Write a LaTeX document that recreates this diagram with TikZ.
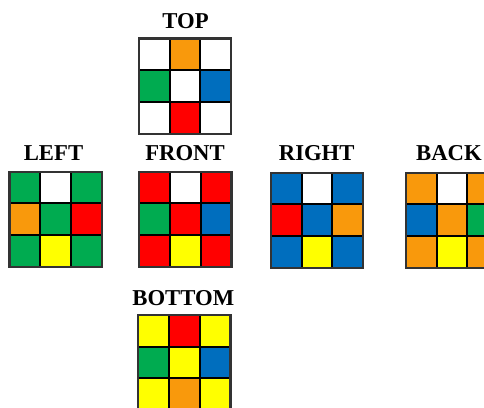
\documentclass[tikz,border=0pt]{standalone}
\usepackage{fontspec}
\setmainfont{Liberation Serif}
\definecolor{cw}{RGB}{255,255,255}
\definecolor{co}{RGB}{249,153,12}
\definecolor{cg}{RGB}{0,171,80}
\definecolor{cb}{RGB}{0,110,190}
\definecolor{cr}{RGB}{255,0,0}
\definecolor{cy}{RGB}{255,255,0}
\newcommand\cubeface[3]{%
  \foreach \c [count=\i from 0] in {#3} {%
    \pgfmathtruncatemacro\col{mod(\i,3)}%
    \pgfmathtruncatemacro\row{div(\i,3)}%
    \filldraw[fill=\c, cell] ({#1+\col*30.7},{#2+\row*31.7}) rectangle ++(30.7,31.7);
  }
  \draw[outer] (#1,#2) rectangle ++(92.1,95.1);
}
\begin{document}
\begin{tikzpicture}[x=1pt,y=-1pt,
  cell/.style={draw=black,line width=2pt},
  outer/.style={draw=black!80,line width=2.2pt},
  lbl/.style={anchor=base,inner sep=0pt,font=\bfseries\fontsize{22.7}{27}\selectfont}]
\useasboundingbox (0,0) rectangle (484,407);
\node[lbl] (ltop) at (185.5,28) {TOP};
\node[lbl] (lleft) at (53.5,160) {LEFT};
\node[lbl] (lfront) at (185,160) {FRONT};
\node[lbl] (lright) at (316.7,160) {RIGHT};
\node[lbl] (lback) at (449,160) {BACK};
\node[lbl] (lbottom) at (183.3,305) {BOTTOM};
\cubeface{139}{38.5}{cw,co,cw,cg,cw,cb,cw,cr,cw}
\cubeface{9.5}{171.7}{cg,cw,cg,co,cg,cr,cg,cy,cg}
\cubeface{139.3}{171.7}{cr,cw,cr,cg,cr,cb,cr,cy,cr}
\cubeface{271}{172.7}{cb,cw,cb,cr,cb,co,cb,cy,cb}
\cubeface{406}{172.7}{co,cw,co,cb,co,cg,co,cy,co}
\cubeface{138.3}{315}{cy,cr,cy,cg,cy,cb,cy,co,cy}
\end{tikzpicture}
\end{document}
